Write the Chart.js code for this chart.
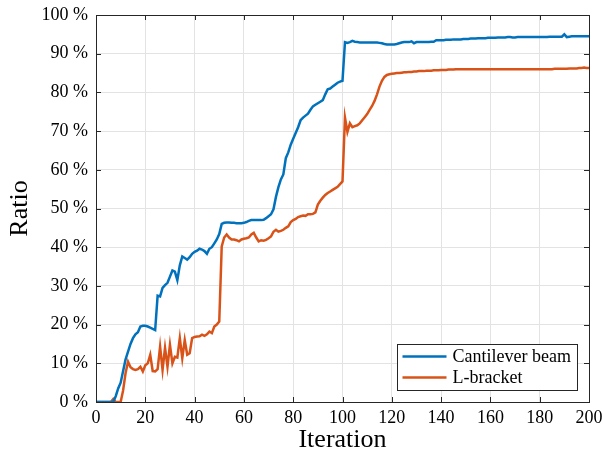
<!DOCTYPE html>
<html>
<head>
<meta charset="utf-8">
<script src="https://cdn.jsdelivr.net/npm/chart.js@4.4.1/dist/chart.umd.min.js"></script>
<style>
  html, body { margin: 0; padding: 0; background: #fff; }
  #wrap { width: 603px; height: 460px; }
</style>
</head>
<body>
<div id="wrap"><canvas id="chart1" width="603" height="460"></canvas></div>
<script>
// iterations 0..200
const iterations = Array.from({ length: 201 }, (_, i) => i);

// Cantilever beam ratio (%), one value per iteration
const cantilever = [
    0, 0, 0, 0, 0, 0, 0, 0, 1.5, 3.5,
    5, 8, 11, 13, 15, 16.5, 17.5, 18, 19.5, 19.7,
    19.7, 19.5, 19.2, 18.9, 18.6, 27.5, 27.3, 29.5, 30.2, 30.8,
    32.4, 34, 33.7, 31.5, 35.3, 37.6, 37.2, 36.8, 37.4, 38.3,
    38.8, 39.1, 39.6, 39.4, 39, 38.3, 39.6, 40, 41, 42,
    43.4, 46, 46.3, 46.4, 46.4, 46.3, 46.3, 46.2, 46.2, 46.2,
    46.3, 46.5, 46.8, 47, 47, 47, 47, 47, 47.1, 47.5,
    48, 48.5, 49.8, 53, 55.5, 57.5, 58.8, 63, 64.5, 66.5,
    68, 69.5, 71, 72.8, 73.5, 74, 74.5, 75.5, 76.4, 76.8,
    77.2, 77.6, 78, 79.5, 80.8, 81, 81.5, 82, 82.5, 82.8,
    83, 93, 92.8, 93, 93.3, 93.1, 93, 92.9, 92.9, 92.9,
    92.9, 92.9, 92.9, 92.9, 92.9, 92.8, 92.7, 92.5, 92.4, 92.4,
    92.4, 92.4, 92.5, 92.7, 92.9, 93, 93, 93, 93.2, 92.7,
    93, 93, 93, 93, 93, 93, 93.1, 93.1, 93.5, 93.5,
    93.5, 93.5, 93.6, 93.6, 93.6, 93.7, 93.7, 93.7, 93.7, 93.8,
    93.8, 93.8, 93.9, 93.9, 93.9, 94, 94, 94, 94, 94.1,
    94.1, 94.1, 94.1, 94.2, 94.2, 94.2, 94.2, 94.3, 94.3, 94.2,
    94.2, 94.3, 94.3, 94.3, 94.3, 94.3, 94.3, 94.3, 94.3, 94.3,
    94.3, 94.3, 94.3, 94.3, 94.4, 94.4, 94.4, 94.4, 94.4, 94.4,
    95, 94.3, 94.4, 94.5, 94.5, 94.5, 94.5, 94.5, 94.5, 94.5,
    94.5
];

// L-bracket ratio (%)
const lbracket = [
    0, 0, 0, 0, 0, 0, 0, 0.8, 0, 0,
    0, 3, 7.5, 10.4, 9, 8.5, 8.3, 8.5, 9.1, 7.9,
    9.5, 10, 12.2, 8, 7.9, 8.5, 14.3, 8.3, 14, 9.1,
    14.8, 10, 11.7, 11.5, 16.5, 11.3, 16, 12.2, 12.6, 16.5,
    16.8, 16.9, 17, 17.4, 17.1, 17.5, 18.2, 17.8, 19.5, 20,
    20.8, 40.2, 42.5, 43.3, 42.5, 42, 42, 41.8, 41.5, 42,
    42.2, 42.3, 42.5, 43.3, 43.7, 42.5, 41.5, 41.8, 41.7, 41.9,
    42.3, 42.8, 44, 44.5, 44, 44.2, 44.5, 45, 45.4, 46.5,
    47, 47.3, 47.8, 48, 48.2, 48.1, 48.5, 48.5, 48.6, 49,
    51, 52, 52.8, 53.5, 54, 54.4, 54.8, 55.2, 55.6, 56.3,
    57, 73.5, 69.8, 72, 71, 71.3, 71.5, 72, 72.8, 73.6,
    74.4, 75.5, 76.5, 77.8, 79.5, 81.5, 83, 84, 84.5, 84.7,
    84.8, 84.9, 85, 85, 85.1, 85.2, 85.2, 85.3, 85.3, 85.4,
    85.4, 85.5, 85.5, 85.5, 85.6, 85.6, 85.6, 85.7, 85.7, 85.7,
    85.8, 85.8, 85.8, 85.9, 85.9, 85.9, 86, 86, 86, 86,
    86, 86, 86, 86, 86, 86, 86, 86, 86, 86,
    86, 86, 86, 86, 86, 86, 86, 86, 86, 86,
    86, 86, 86, 86, 86, 86, 86, 86, 86, 86,
    86, 86, 86, 86, 86, 86, 86.1, 86.1, 86.1, 86.1,
    86.1, 86.1, 86.2, 86.2, 86.2, 86.2, 86.3, 86.3, 86.4, 86.3,
    86.3
];

const xTicks = [0, 20, 40, 60, 80, 100, 120, 140, 160, 180, 200];
const yTicks = [0, 10, 20, 30, 40, 50, 60, 70, 80, 90, 100];

const seriesNames = ['Cantilever beam', 'L-bracket'];
const seriesColors = ['#0072BD', '#D95319'];

const serif = "'Liberation Serif', 'DejaVu Serif', serif";
const axisColor = '#262626';

const toPoints = vals => vals.map((v, i) => ({ x: iterations[i], y: v }));

// box with inward ticks on all four sides + legend in lower right
const matlabAxes = {
    id: 'matlabAxes',
    afterDatasetsDraw(chart) {
        const { ctx, chartArea: a, scales } = chart;
        ctx.save();
        ctx.strokeStyle = axisColor;
        ctx.lineWidth = 1;
        ctx.beginPath();
        const tl = 5;
        xTicks.forEach(t => {
            const px = Math.round(scales.x.getPixelForValue(t)) + 0.5;
            ctx.moveTo(px, a.bottom); ctx.lineTo(px, a.bottom - tl);
            ctx.moveTo(px, a.top); ctx.lineTo(px, a.top + tl);
        });
        yTicks.forEach(t => {
            const py = Math.round(scales.y.getPixelForValue(t)) + 0.5;
            ctx.moveTo(a.left, py); ctx.lineTo(a.left + tl, py);
            ctx.moveTo(a.right, py); ctx.lineTo(a.right - tl, py);
        });
        ctx.stroke();
        ctx.strokeRect(Math.round(a.left) + 0.5, Math.round(a.top) + 0.5,
            Math.round(a.right - a.left), Math.round(a.bottom - a.top));

        // legend
        const bx = 397.5, by = 344.5, bw = 180, bh = 46;
        ctx.fillStyle = '#fff';
        ctx.fillRect(bx, by, bw, bh);
        ctx.strokeRect(bx, by, bw, bh);
        ctx.font = "18px " + serif;
        ctx.textBaseline = 'middle';
        chart.data.datasets.forEach((ds, i) => {
            const ly = by + 12 + i * 21;
            ctx.strokeStyle = ds.borderColor;
            ctx.lineWidth = 2.5;
            ctx.beginPath();
            ctx.moveTo(bx + 5, ly); ctx.lineTo(bx + 49, ly);
            ctx.stroke();
            ctx.fillStyle = '#000';
            ctx.fillText(ds.label, bx + 55, ly + 1);
        });
        ctx.restore();
    }
};

const chart1Ctx = document.getElementById('chart1').getContext('2d');
const chart1 = new Chart(chart1Ctx, {
    type: 'line',
    data: {
        datasets: seriesNames.map((name, i) => ({
            label: name,
            data: toPoints(i === 0 ? cantilever : lbracket),
            borderColor: seriesColors[i],
            backgroundColor: seriesColors[i],
            borderWidth: 2.5,
            pointRadius: 0,
            tension: 0,
            fill: false
        }))
    },
    options: {
        responsive: false,
        animation: false,
        layout: { padding: { left: 0, right: 14, top: 15, bottom: 0 } },
        plugins: {
            legend: { display: false },
            tooltip: { enabled: false }
        },
        scales: {
            x: {
                type: 'linear',
                min: 0,
                max: 200,
                afterFit: s => { s.height = 58; s.paddingLeft = 0; s.paddingRight = 0; },
                afterBuildTicks: s => { s.ticks = xTicks.map(v => ({ value: v })); },
                ticks: { color: '#000', padding: 5, font: { family: serif, size: 18 }, maxRotation: 0 },
                grid: { color: '#e3e3e3', drawTicks: false },
                border: { display: false },
                title: { display: true, text: 'Iteration', color: '#000', font: { family: serif, size: 26 }, padding: { top: 0, bottom: 4 } }
            },
            y: {
                type: 'linear',
                min: 0,
                max: 100,
                afterFit: s => { s.width = 96; s.paddingTop = 0; s.paddingBottom = 0; },
                afterBuildTicks: s => { s.ticks = yTicks.map(v => ({ value: v })); },
                ticks: { color: '#000', padding: 8, font: { family: serif, size: 18 }, callback: v => v + ' %' },
                grid: { color: '#e3e3e3', drawTicks: false },
                border: { display: false },
                title: { display: true, text: 'Ratio', color: '#000', font: { family: serif, size: 26 }, padding: { top: 5, bottom: 0 } }
            }
        }
    },
    plugins: [matlabAxes]
});
</script>
</body>
</html>
